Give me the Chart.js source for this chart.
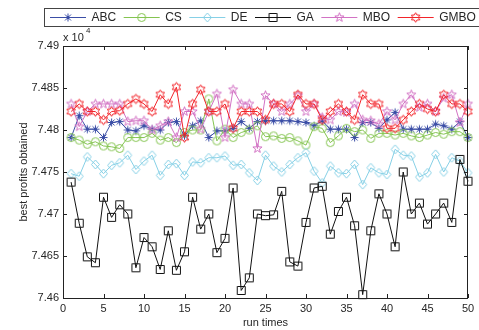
<!DOCTYPE html>
<html>
<head>
<meta charset="utf-8">
<script src="https://cdn.jsdelivr.net/npm/chart.js@4.4.1/dist/chart.umd.min.js"></script>
<style>
  html, body { margin: 0; padding: 0; background: #fff; }
  canvas { display: block; }
</style>
</head>
<body>
<canvas id="chart" width="479" height="330"></canvas>
<script>
// run index (x) and best profit per run (in units of 10^4)
const runs = [1,2,3,4,5,6,7,8,9,10,11,12,13,14,15,16,17,18,19,20,21,22,23,24,25,
  26,27,28,29,30,31,32,33,34,35,36,37,38,39,40,41,42,43,44,45,46,47,48,49,50];

const abc = [7.4791,7.4817,7.4801,7.4801,7.4791,7.4809,7.4810,7.4800,7.4799,7.4805,
  7.4801,7.4800,7.4809,7.4810,7.4793,7.4805,7.4811,7.4791,7.4799,7.4799,
  7.4802,7.4810,7.4802,7.4810,7.4811,7.4811,7.4811,7.4811,7.4810,7.4809,
  7.4805,7.4811,7.4801,7.4801,7.4801,7.4791,7.4809,7.4809,7.4802,7.4812,
  7.4821,7.4801,7.4801,7.4801,7.4801,7.4807,7.4805,7.4801,7.4810,7.4791];

const cs = [7.4791,7.4788,7.4783,7.4786,7.4781,7.4780,7.4778,7.4791,7.4791,7.4791,
  7.4796,7.4788,7.4791,7.4785,7.4797,7.4800,7.4800,7.4837,7.4787,7.4801,
  7.4791,7.4797,7.4800,7.4805,7.4792,7.4793,7.4790,7.4791,7.4787,7.4782,
  7.4804,7.4802,7.4785,7.4793,7.4802,7.4798,7.4800,7.4790,7.4796,7.4796,
  7.4794,7.4796,7.4793,7.4791,7.4794,7.4797,7.4795,7.4798,7.4798,7.4791];

const de = [7.4748,7.4745,7.4768,7.4759,7.4748,7.4758,7.4761,7.4770,7.4753,7.4763,
  7.4770,7.4746,7.4759,7.4760,7.4746,7.4762,7.4761,7.4767,7.4767,7.4769,
  7.4758,7.4759,7.4749,7.4740,7.4770,7.4757,7.4750,7.4759,7.4767,7.4773,
  7.4751,7.4737,7.4757,7.4749,7.4748,7.4759,7.4735,7.4755,7.4749,7.4747,
  7.4777,7.4770,7.4769,7.4744,7.4749,7.4771,7.4750,7.4767,7.4763,7.4749];

const ga = [7.4738,7.4689,7.4649,7.4642,7.4720,7.4696,7.4711,7.4700,7.4636,7.4672,
  7.4661,7.4634,7.4680,7.4633,7.4655,7.4720,7.4682,7.4700,7.4654,7.4671,
  7.4731,7.4609,7.4624,7.4700,7.4698,7.4699,7.4727,7.4643,7.4638,7.4690,
  7.4731,7.4733,7.4676,7.4703,7.4720,7.4686,7.4604,7.4680,7.4724,7.4700,
  7.4661,7.4750,7.4700,7.4713,7.4688,7.4700,7.4713,7.4690,7.4765,7.4739];

const mbo = [7.4831,7.4804,7.4822,7.4831,7.4831,7.4831,7.4831,7.4810,7.4811,7.4811,
  7.4800,7.4805,7.4810,7.4791,7.4822,7.4822,7.4801,7.4822,7.4843,7.4791,
  7.4848,7.4831,7.4831,7.4778,7.4841,7.4831,7.4822,7.4831,7.4841,7.4822,
  7.4831,7.4815,7.4812,7.4822,7.4821,7.4831,7.4812,7.4811,7.4807,7.4822,
  7.4812,7.4831,7.4842,7.4827,7.4831,7.4822,7.4838,7.4842,7.4809,7.4831];

const gmbo = [7.4822,7.4831,7.4822,7.4822,7.4812,7.4822,7.4823,7.4831,7.4837,7.4831,
  7.4822,7.4842,7.4831,7.4851,7.4791,7.4831,7.4848,7.4822,7.4822,7.4831,
  7.4802,7.4822,7.4822,7.4822,7.4812,7.4831,7.4831,7.4822,7.4842,7.4831,
  7.4831,7.4812,7.4822,7.4831,7.4822,7.4812,7.4842,7.4831,7.4831,7.4802,
  7.4802,7.4812,7.4822,7.4831,7.4825,7.4822,7.4842,7.4831,7.4831,7.4822];

const xTickValues = [0,5,10,15,20,25,30,35,40,45,50];
const yTickValues = [7.46,7.465,7.47,7.475,7.48,7.485,7.49];

const FONT = "'Liberation Sans', Arial, sans-serif";
const TEXT = '#262626';

// hollow matlab-like markers drawn on small canvases
function marker(shape, color) {
  const c = document.createElement('canvas');
  c.width = c.height = 13;
  const g = c.getContext('2d');
  const m = 6.5;
  g.strokeStyle = color;
  g.lineWidth = 1;
  g.beginPath();
  if (shape === 'asterisk') {
    g.moveTo(m - 4, m); g.lineTo(m + 4, m);
    g.moveTo(m, m - 4); g.lineTo(m, m + 4);
    g.moveTo(m - 3, m - 3); g.lineTo(m + 3, m + 3);
    g.moveTo(m - 3, m + 3); g.lineTo(m + 3, m - 3);
  } else if (shape === 'circle') {
    g.arc(m, m, 4, 0, Math.PI * 2);
  } else if (shape === 'diamond') {
    g.moveTo(m, m - 4.5); g.lineTo(m + 4, m); g.lineTo(m, m + 4.5); g.lineTo(m - 4, m);
    g.closePath();
  } else if (shape === 'square') {
    g.rect(2.5, 2.5, 8, 8);
  } else {
    const n = shape === 'pentagram' ? 5 : 6;
    const R = 4.8, r = n === 5 ? 2.0 : 2.8;
    for (let k = 0; k < 2 * n; k++) {
      const a = -Math.PI / 2 + k * Math.PI / n;
      const rad = k % 2 ? r : R;
      const px = m + rad * Math.cos(a), py = m + rad * Math.sin(a);
      if (k) g.lineTo(px, py); else g.moveTo(px, py);
    }
    g.closePath();
  }
  g.stroke();
  return c;
}

function series(label, values, color, shape, order) {
  return {
    label,
    data: runs.map((r, i) => ({ x: r, y: values[i] })),
    borderColor: color,
    borderWidth: 1,
    backgroundColor: color,
    pointStyle: marker(shape, color),
    pointRadius: 4,
    tension: 0,
    clip: false,
    order
  };
}

const datasets = [
  series('ABC', abc, '#3b4ea6', 'asterisk', 5),
  series('CS', cs, '#84c450', 'circle', 4),
  series('DE', de, '#86d0e6', 'diamond', 3),
  series('GA', ga, '#111111', 'square', 2),
  series('MBO', mbo, '#d272c4', 'pentagram', 1),
  series('GMBO', gmbo, '#f2242a', 'hexagram', 0)
];

// box, inward ticks, exponent label and the matlab style legend
const matlabAxes = {
  id: 'matlabAxes',
  afterDraw(chart) {
    const { ctx, chartArea: a, scales } = chart;
    ctx.save();
    ctx.strokeStyle = '#222';
    ctx.lineWidth = 1;
    ctx.strokeRect(Math.round(a.left) + 0.5, Math.round(a.top) + 0.5,
      Math.round(a.right - a.left) - 1, Math.round(a.bottom - a.top));
    ctx.beginPath();
    for (const v of xTickValues) {
      const px = Math.round(scales.x.getPixelForValue(v)) + 0.5;
      ctx.moveTo(px, a.bottom); ctx.lineTo(px, a.bottom - 4);
      ctx.moveTo(px, a.top); ctx.lineTo(px, a.top + 4);
    }
    for (const v of yTickValues) {
      const py = Math.round(scales.y.getPixelForValue(v)) + 0.5;
      ctx.moveTo(a.left, py); ctx.lineTo(a.left + 4, py);
      ctx.moveTo(a.right, py); ctx.lineTo(a.right - 4, py);
    }
    ctx.stroke();

    // x 10^4
    ctx.fillStyle = TEXT;
    ctx.textBaseline = 'alphabetic';
    ctx.textAlign = 'left';
    ctx.font = '11px ' + FONT;
    ctx.fillText('x 10', 63, 41);
    ctx.font = '8px ' + FONT;
    ctx.fillText('4', 86, 33);

    // legend
    ctx.fillStyle = '#fff';
    ctx.fillRect(44, 8, 440, 18);
    ctx.strokeStyle = '#444';
    ctx.strokeRect(44.5, 8.5, 440, 18);
    ctx.font = '12px ' + FONT;
    ctx.textBaseline = 'middle';
    let x = 50;
    const y = 17.5;
    for (const ds of chart.data.datasets) {
      ctx.strokeStyle = ds.borderColor;
      ctx.beginPath();
      ctx.moveTo(x, y); ctx.lineTo(x + 36, y);
      ctx.stroke();
      ctx.drawImage(ds.pointStyle, x + 18 - 6.5, y - 6.5);
      ctx.fillStyle = TEXT;
      ctx.fillText(ds.label, x + 41.5, y);
      x += 41.5 + ctx.measureText(ds.label).width + 7.5;
    }
    ctx.restore();
  }
};

new Chart(document.getElementById('chart'), {
  type: 'line',
  data: { datasets },
  plugins: [matlabAxes],
  options: {
    responsive: false,
    animation: false,
    events: [],
    layout: { padding: { top: 46, right: 11, left: 0, bottom: 0 } },
    plugins: { legend: { display: false }, tooltip: { enabled: false } },
    scales: {
      x: {
        type: 'linear',
        min: 0, max: 50,
        afterBuildTicks: s => { s.ticks = xTickValues.map(v => ({ value: v })); },
        afterFit: s => { s.height = 32; },
        grid: { display: false, drawTicks: false },
        border: { display: false },
        ticks: { color: TEXT, font: { family: FONT, size: 11 }, padding: 4, maxRotation: 0 },
        title: { display: true, text: 'run times', color: TEXT, font: { family: FONT, size: 11 }, padding: { top: 0, bottom: 0.5 } }
      },
      y: {
        min: 7.46, max: 7.49,
        afterBuildTicks: s => { s.ticks = yTickValues.map(v => ({ value: v })); },
        afterFit: s => { s.width = 63; },
        grid: { display: false, drawTicks: false },
        border: { display: false },
        ticks: { color: TEXT, font: { family: FONT, size: 11 }, padding: 4, callback: v => String(+v.toFixed(3)) },
        title: { display: true, text: 'best profits obtained', color: TEXT, font: { family: FONT, size: 11 }, padding: { top: 17, bottom: 0 } }
      }
    }
  }
});
</script>
</body>
</html>
